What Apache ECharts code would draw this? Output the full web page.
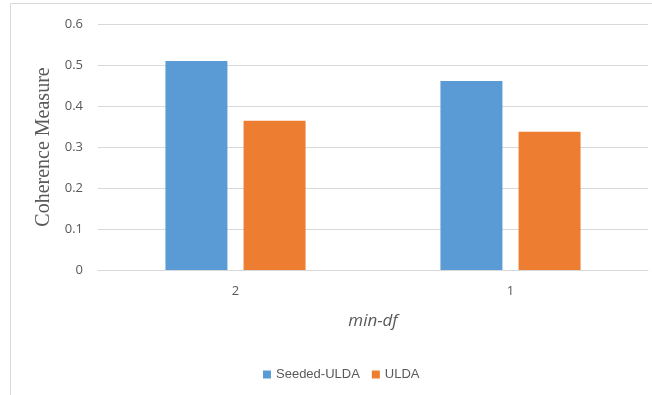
<!DOCTYPE html>
<html><head><meta charset="utf-8">
<script src="https://cdn.jsdelivr.net/npm/echarts@6/dist/echarts.min.js"></script>
<style>html,body{margin:0;padding:0;background:#fff}#c{width:652px;height:395px}</style>
</head><body><div id="c"></div>
<script>
var categories = ['2', '1'];
var seededULDA = [0.51, 0.461];
var ulda = [0.364, 0.337];
var yTicks = [0, 0.1, 0.2, 0.3, 0.4, 0.5, 0.6];

var chart = echarts.init(document.getElementById('c'));
chart.setOption({
  animation: false,
  graphic: [{type: 'rect', shape: {x: 10.5, y: 3.5, width: 700, height: 500},
    style: {fill: 'none', stroke: '#d9d9d9', lineWidth: 1}, silent: true}],
  grid: {left: 98, right: 4, top: 24, bottom: 125},
  legend: {
    left: 258, top: 363, itemWidth: 8, itemHeight: 8, itemGap: 12,
    icon: 'rect',
    textStyle: {color: '#595959', fontSize: 13, fontFamily: 'Liberation Sans Narrow, Liberation Sans, sans-serif'},
    data: ['Seeded-ULDA', 'ULDA']
  },
  xAxis: {
    type: 'category', data: categories,
    axisLine: {lineStyle: {color: '#d9d9d9'}},
    axisTick: {show: false},
    axisLabel: {color: '#595959', fontSize: 13, margin: 15, fontFamily: 'Open Sans, sans-serif'},
    name: 'min-df', nameLocation: 'middle', nameGap: 43,
    nameTextStyle: {color: '#595959', fontSize: 17, fontStyle: 'italic', fontFamily: 'Open Sans, sans-serif'}
  },
  yAxis: {
    type: 'value', min: yTicks[0], max: yTicks[yTicks.length - 1], interval: 0.1,
    axisLine: {show: false}, axisTick: {show: false},
    splitLine: {lineStyle: {color: '#d9d9d9'}},
    axisLabel: {color: '#595959', fontSize: 13, margin: 15, fontFamily: 'Open Sans, sans-serif',
      formatter: function (v) { return String(Math.round(v * 10) / 10); }},
    name: 'Coherence Measure', nameLocation: 'middle', nameGap: 42, nameRotate: 90,
    nameTextStyle: {color: '#595959', fontSize: 20, fontFamily: 'Liberation Serif, serif'}
  },
  series: [
    {name: 'Seeded-ULDA', type: 'bar', data: seededULDA, barWidth: 62, barGap: '26%',
      itemStyle: {color: '#5B9BD5'}},
    {name: 'ULDA', type: 'bar', data: ulda, barWidth: 62,
      itemStyle: {color: '#ED7D31'}}
  ]
});
</script></body></html>
